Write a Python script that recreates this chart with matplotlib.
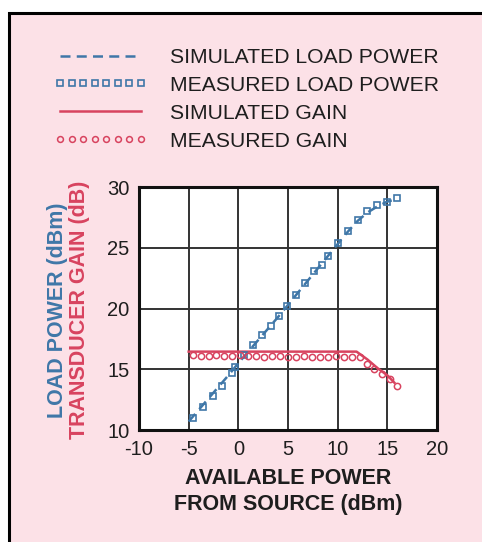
import matplotlib
matplotlib.use("Agg")
import matplotlib.pyplot as plt
from matplotlib.patches import Rectangle

plt.rcParams['font.family'] = ['Liberation Sans', 'DejaVu Sans']

# ---- data ----
sim_load_x = [-5, -3, -1, 0, 2, 4, 6, 8, 10, 11, 12, 13, 14, 15, 16]
sim_load_y = [10.7, 12.6, 14.5, 15.5, 17.4, 19.3, 21.3, 23.3, 25.3, 26.3, 27.2, 27.9, 28.4, 28.8, 29.0]

meas_load_x = [-4.6, -3.6, -2.6, -1.6, -0.6, -0.3, 0.6, 1.5, 2.4, 3.3, 4.1, 4.9,
               5.8, 6.7, 7.6, 8.4, 9.0, 10.0, 11.0, 12.0, 13.0, 14.0, 15.0, 16.0]
meas_load_y = [11.0, 11.9, 12.8, 13.6, 14.7, 15.2, 16.2, 17.0, 17.8, 18.6, 19.4, 20.2,
               21.1, 22.1, 23.1, 23.6, 24.3, 25.4, 26.4, 27.3, 28.0, 28.5, 28.8, 29.1]

sim_gain_x = [-5, 11.9, 13, 14, 15, 15.7]
sim_gain_y = [16.45, 16.45, 15.8, 15.1, 14.5, 13.9]

meas_gain_x = [-4.6, -3.8, -3.0, -2.2, -1.4, -0.6, 0.2, 1.0, 1.8, 2.6, 3.4, 4.2, 5.0, 5.8,
               6.6, 7.4, 8.2, 9.0, 9.8, 10.6, 11.4, 12.2, 13.0, 13.7, 14.5, 15.3, 16.0]
meas_gain_y = [16.2, 16.1, 16.1, 16.2, 16.1, 16.1, 16.2, 16.1, 16.1, 16.0, 16.1, 16.1, 16.0, 16.0,
               16.1, 16.0, 16.0, 16.0, 16.1, 16.0, 16.0, 16.0, 15.4, 15.0, 14.6, 14.2, 13.6]

xticks = [-10, -5, 0, 5, 10, 15, 20]
yticks = [10, 15, 20, 25, 30]

labels = ["SIMULATED LOAD POWER", "MEASURED LOAD POWER", "SIMULATED GAIN", "MEASURED GAIN"]

BLUE = "#3f77a8"
RED = "#d8435f"
PINK = "#fce1e7"
TXT = "#1e1e1e"

W, H = 482, 542
fig = plt.figure(figsize=(W / 100, H / 100), dpi=100, facecolor="white")

# pink panel with black frame on top/left
fig.patches.append(Rectangle((9 / W, -0.1), 1.2, (H - 13) / H + 0.1, transform=fig.transFigure,
                             facecolor=PINK, edgecolor="black", linewidth=2.2, zorder=-5))

ax = fig.add_axes([139 / W, 1 - 430 / H, (437 - 139) / W, (430 - 187) / H])
ax.set_zorder(2)
ax.set_facecolor("white")

l1, = ax.plot(sim_load_x, sim_load_y, color=BLUE, lw=1.8, dashes=(4, 2.5), zorder=3)
l2, = ax.plot(meas_load_x, meas_load_y, ls="none", marker="s", ms=4.3, mfc="none",
              mec=BLUE, mew=1.2, zorder=4)
l3, = ax.plot(sim_gain_x, sim_gain_y, color=RED, lw=1.8, zorder=3)
l4, = ax.plot(meas_gain_x, meas_gain_y, ls="none", marker="o", ms=4.5, mfc="none",
              mec=RED, mew=1.1, zorder=4)

ax.set_xlim(-10, 20)
ax.set_ylim(10, 30)
ax.set_xticks(xticks)
ax.set_yticks(yticks)
ax.set_xticklabels([str(t) for t in xticks])
ax.set_yticklabels([str(t) for t in yticks])
ax.grid(True, color="#333333", lw=1.4)
ax.set_axisbelow(True)
for s in ax.spines.values():
    s.set_linewidth(2.2)
    s.set_color("#111111")
ax.tick_params(length=0, labelsize=14.5, colors=TXT, pad=7)

ax.set_xlabel("AVAILABLE POWER\nFROM SOURCE (dBm)", fontsize=15.5, fontweight="bold",
              color=TXT, labelpad=7, linespacing=1.3)

fig.text(57 / W, 1 - 310 / H, "LOAD POWER (dBm)", rotation=90, ha="center", va="center",
         fontsize=15.5, fontweight="bold", color=BLUE)
fig.text(79 / W, 1 - 310 / H, "TRANSDUCER GAIN (dB)", rotation=90, ha="center", va="center",
         fontsize=15.5, fontweight="bold", color=RED)

leg = fig.legend([l1, l2, l3, l4], labels, loc="upper left",
                 bbox_to_anchor=(54 / W, 1 - 48 / H), frameon=False,
                 fontsize=15.2, numpoints=8, handlelength=4.4, handletextpad=1.1,
                 labelspacing=0.42, borderpad=0, borderaxespad=0)
for t in leg.get_texts():
    t.set_color(TXT)
for h in leg.legend_handles:
    if h.get_marker() not in (None, "None", ""):
        h.set_markersize(4.2)

fig.savefig("out.png", dpi=100, facecolor="white")
